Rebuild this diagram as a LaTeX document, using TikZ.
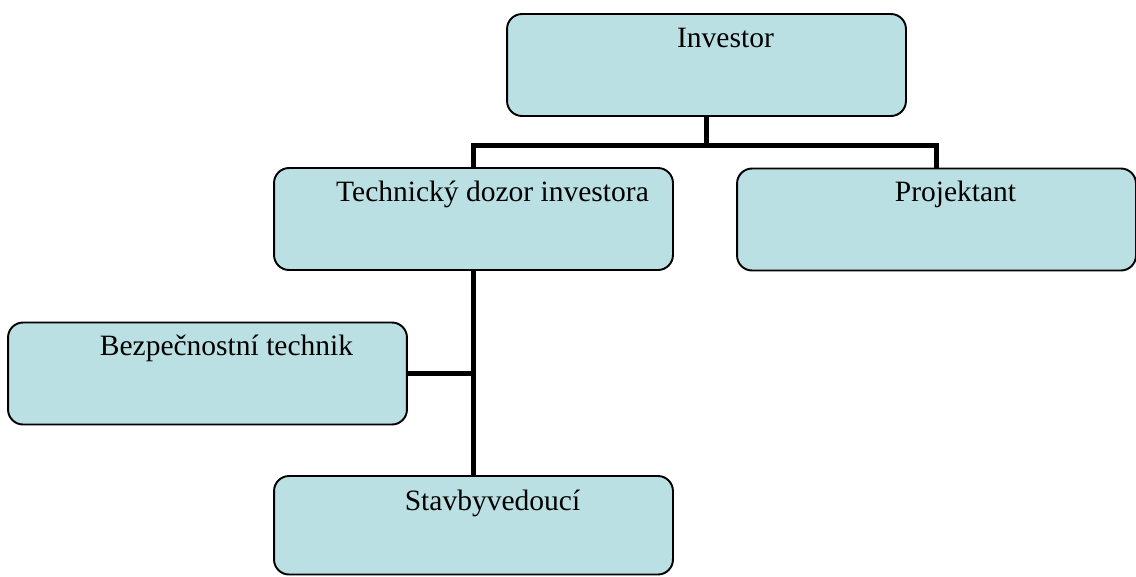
\documentclass[tikz,border=0pt]{standalone}
\usepackage{fontspec}
\setmainfont{Liberation Serif}
\usetikzlibrary{positioning,calc}
\definecolor{boxfill}{RGB}{187,224,227}

\begin{document}
\begin{tikzpicture}[x=0.02cm,y=-0.02cm,
  orgbox/.style={draw=black,fill=boxfill,rounded corners=0.3cm,line width=1.1pt,
    minimum width=7.98cm,minimum height=2.04cm,inner sep=0pt},
  boxtext/.style={anchor=base,inner sep=0pt,font=\fontsize{16.8}{20}\selectfont},
  conn/.style={line width=0.105cm}]
\useasboundingbox (0,0) rectangle (1136,576);

% the boxes
\node[orgbox] (inv) at (706.5,65) {};
\node[orgbox] (tdi) at (473.5,219) {};
\node[orgbox] (proj) at (936.5,219.5) {};
\node[orgbox] (bt) at (207.5,373.5) {};
\node[orgbox,minimum height=1.97cm] (sv) at (473.5,525.25) {};

% the texts, set a little right of the middle
\node[boxtext] (inv-t) at ([shift={(19,34)}]inv.north) {Investor};
\node[boxtext] (tdi-t) at ([shift={(19,34)}]tdi.north) {Technický dozor investora};
\node[boxtext] (proj-t) at ([shift={(19,34)}]proj.north) {Projektant};
\node[boxtext] (bt-t) at ([shift={(19,34)}]bt.north) {Bezpečnostní technik};
\node[boxtext] (sv-t) at ([shift={(19,35)}]sv.north) {Stavbyvedoucí};

% the connectors
\draw[conn] (inv.south) -- ++(0,28.5) -| (tdi.north);
\draw[conn] (inv.south) -- ++(0,28.5) -| (proj.north);
\draw[conn] (tdi.south) -- (sv.north);
\draw[conn] (bt.east) -- (bt.east -| tdi.south);
\end{tikzpicture}
\end{document}
